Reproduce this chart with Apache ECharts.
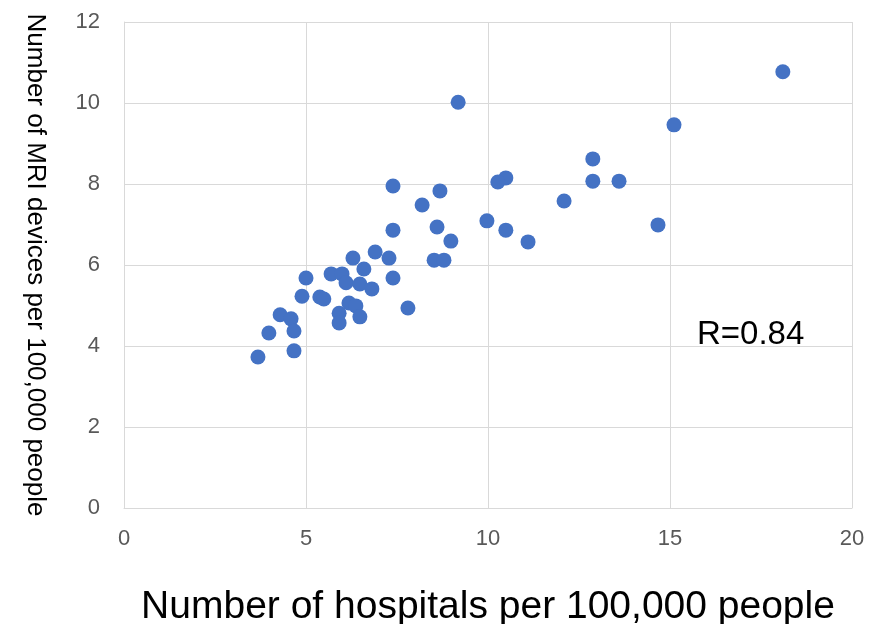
<!DOCTYPE html>
<html>
<head>
<meta charset="utf-8">
<script src="https://cdn.jsdelivr.net/npm/echarts@6/dist/echarts.min.js"></script>
<style>
    html, body { margin: 0; padding: 0; background: #fff; }
    #chart { width: 885px; height: 624px; }
</style>
</head>
<body>
<div id="chart"></div>
<script>
(function () {
    'use strict';

    // hospitals per 100,000 people (x)
    var hospitals = [18.10, 9.18, 15.11, 12.88, 10.49, 10.27, 12.88, 13.60, 7.39, 8.68,
        8.19, 12.09, 9.97, 8.60, 7.39, 10.49, 14.67, 8.98, 11.10, 6.90,
        7.28, 6.29, 8.52, 8.79, 6.59, 5.69, 5.99, 5.00, 7.39, 6.10,
        6.48, 6.81, 4.89, 5.38, 5.49, 6.18, 6.37, 7.80, 5.91, 4.29,
        4.59, 6.48, 5.91, 3.98, 4.67, 4.67, 3.68];
    // MRI devices per 100,000 people (y)
    var mriDevices = [10.77, 10.02, 9.46, 8.62, 8.15, 8.05, 8.07, 8.07, 7.95, 7.83,
        7.48, 7.58, 7.09, 6.94, 6.86, 6.86, 6.99, 6.59, 6.57, 6.32,
        6.17, 6.17, 6.12, 6.12, 5.90, 5.78, 5.78, 5.68, 5.68, 5.56,
        5.53, 5.41, 5.23, 5.21, 5.16, 5.06, 4.99, 4.94, 4.81, 4.77,
        4.67, 4.72, 4.57, 4.32, 4.37, 3.88, 3.73];
    var xTicks = [0, 5, 10, 15, 20];
    var yTicks = [0, 2, 4, 6, 8, 10, 12];
    var corrLabel = 'R=0.84';

    var font = '"Liberation Sans", Arial, sans-serif';
    var gridColor = '#d9d9d9';
    var tickColor = '#595959';

    var points = hospitals.map(function (h, i) {
        return [h, mriDevices[i]];
    });

    function axisBase(ticks) {
        return {
            type: 'value',
            min: ticks[0],
            max: ticks[ticks.length - 1],
            interval: ticks[1] - ticks[0],
            axisLine: { show: true, lineStyle: { color: gridColor, width: 1 } },
            axisTick: { show: false },
            splitLine: { show: true, lineStyle: { color: gridColor, width: 1 } },
            axisLabel: { color: tickColor, fontFamily: font, fontSize: 22 }
        };
    }

    var xAxis = axisBase(xTicks);
    xAxis.axisLabel.margin = 20;
    xAxis.name = 'Number of hospitals per 100,000 people';
    xAxis.nameLocation = 'middle';
    xAxis.nameGap = 80;
    xAxis.nameTextStyle = { color: '#000', fontFamily: font, fontSize: 39 };

    var yAxis = axisBase(yTicks);
    yAxis.axisLabel.margin = 24;
    yAxis.name = 'Number of MRI devices per 100,000 people';
    yAxis.nameLocation = 'middle';
    yAxis.nameRotate = -90;
    yAxis.nameGap = 76;
    yAxis.nameTextStyle = { color: '#000', fontFamily: font, fontSize: 26 };

    var chart = echarts.init(document.getElementById('chart'), null, { renderer: 'canvas' });
    chart.setOption({
        animation: false,
        backgroundColor: '#fff',
        grid: { left: 124, right: 33, top: 22, bottom: 116, outerBoundsMode: 'none', containLabel: false },
        xAxis: xAxis,
        yAxis: yAxis,
        graphic: [{
            type: 'text',
            left: 697,
            top: 318,
            style: { text: corrLabel, fill: '#000', font: '33px ' + font }
        }],
        series: [{
            type: 'scatter',
            data: points,
            symbol: 'circle',
            symbolSize: 15,
            itemStyle: { color: '#4472c4', opacity: 1 }
        }]
    });
})();
</script>
</body>
</html>
